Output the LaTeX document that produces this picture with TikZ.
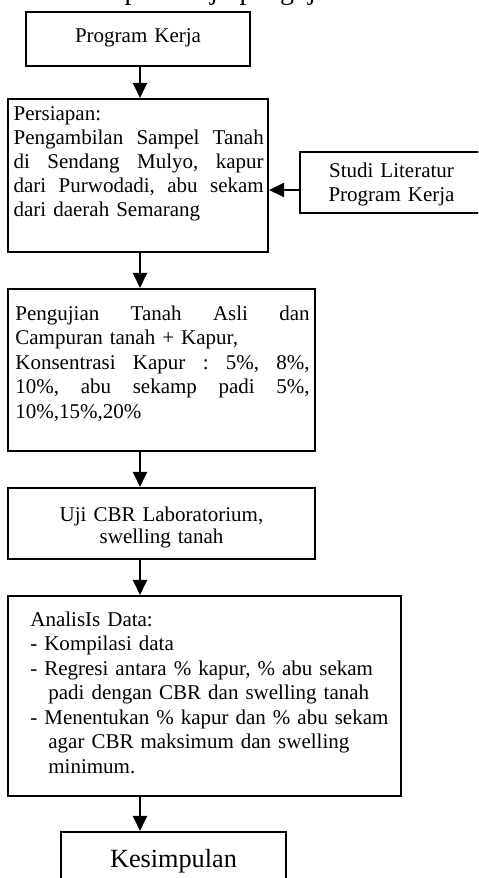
\documentclass[tikz,border=0pt]{standalone}
\usepackage{fontspec}
\setmainfont{Liberation Serif}
\usetikzlibrary{arrows.meta,fit}
\newcommand{\jline}[2]{\leavevmode\hbox to #1{#2}}
\begin{document}
\begin{tikzpicture}[x=0.5714pt,y=-0.5714pt,
  box/.style={draw, line width=1.15pt, inner sep=0pt, rectangle},
  ltxt/.style={inner sep=0pt, anchor=base west, align=left},
  ctxt/.style={inner sep=0pt, anchor=base, align=center},
  arr/.style={line width=1.15pt, -{Triangle[width=8pt,length=8.6pt]}}]
\useasboundingbox (0,0) rectangle (478,878);
\clip (0,0) rectangle (478,878);

% clipped caption line at the very top (only descenders visible)
\node[ltxt, text width=240pt, font=\fontsize{16pt}{18pt}\selectfont] (title) at (17,-0.6) {Alur tahapan kerja pengujian};

% boxes
\node[box, fit={(26,12) (250,66)}] (pk) {};
\node[box, fit={(8,99) (268,252)}] (prep) {};
\node[box, fit={(300,152) (484,213)}] (studi) {};
\node[box, fit={(8,289) (315,451)}] (test) {};
\node[box, fit={(8,488) (315,559)}] (cbr) {};
\node[box, fit={(8,596) (401,796)}] (anal) {};
\node[box, fit={(61,832) (286,894)}] (kes) {};

% texts
\node[ctxt, text width=120pt, font=\fontsize{12pt}{14pt}\selectfont] (tpk) at (138,43) {Program Kerja};

\node[ltxt, text width=142.9pt, font=\fontsize{12pt}{13.7pt}\selectfont] (tprep) at (13.3,121) {Persiapan:\\
\jline{142.9pt}{Pengambilan\hfill Sampel\hfill Tanah}\\
\jline{142.9pt}{di\hfill Sendang\hfill Mulyo,\hfill kapur}\\
\jline{142.9pt}{dari\hfill Purwodadi,\hfill abu\hfill sekam}\\
dari daerah Semarang};

\node[ctxt, text width=100pt, font=\fontsize{12pt}{14pt}\selectfont] (tstudi) at (391.5,177) {Studi Literatur\\ Program Kerja};

\node[ltxt, text width=168.2pt, font=\fontsize{12pt}{14pt}\selectfont] (ttest) at (15,320) {\jline{168.2pt}{Pengujian\hfill Tanah\hfill Asli\hfill dan}\\
Campuran tanah + Kapur,\\
\jline{168.2pt}{Konsentrasi\hfill Kapur\hfill :\hfill 5\%,\hfill 8\%,}\\
\jline{168.2pt}{10\%,\hfill abu\hfill sekamp\hfill padi\hfill 5\%,}\\
10\%,15\%,20\%};

\node[ctxt, text width=170pt, font=\fontsize{12pt}{12.7pt}\selectfont] (tcbr) at (161.5,521) {Uji CBR Laboratorium,\\ swelling tanah};

\node[ltxt, text width=215pt, font=\fontsize{12pt}{14pt}\selectfont] (tanal) at (30,626) {AnalisIs Data:\\
- Kompilasi data\\
- Regresi antara \% kapur, \% abu sekam\\
\hspace*{10.3pt}padi dengan CBR dan swelling tanah\\
- Menentukan \% kapur dan \% abu sekam\\
\hspace*{10.3pt}agar CBR maksimum dan swelling\\
\hspace*{10.3pt}minimum.};

\node[ctxt, text width=120pt, font=\fontsize{15pt}{18pt}\selectfont] (tkes) at (173.5,867) {Kesimpulan};

% connectors
\coordinate (ax) at (140,0);
\coordinate (ay) at (0,190);
\draw[arr] (pk.south -| ax) -- (prep.north -| ax);
\draw[arr] (studi.west |- ay) -- (prep.east |- ay);
\draw[arr] (prep.south -| ax) -- (test.north -| ax);
\draw[arr] (test.south -| ax) -- (cbr.north -| ax);
\draw[arr] (cbr.south -| ax) -- (anal.north -| ax);
\draw[arr] (anal.south -| ax) -- (kes.north -| ax);
\end{tikzpicture}
\end{document}
